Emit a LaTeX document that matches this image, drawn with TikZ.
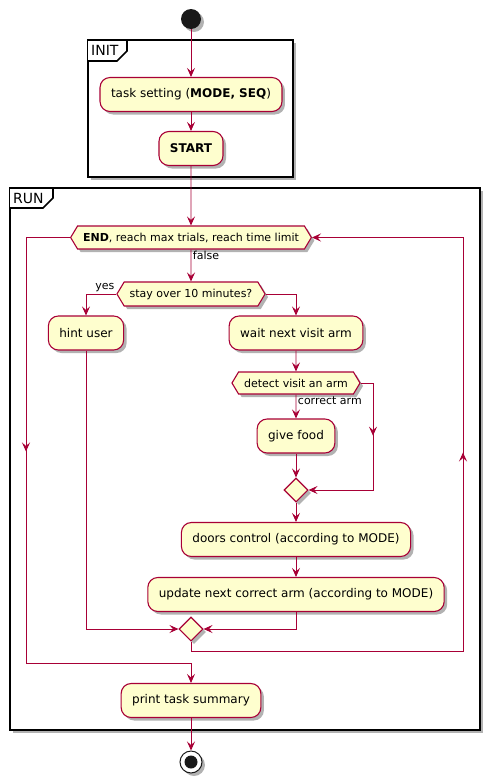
\documentclass[tikz,border=0pt]{standalone}
\usepackage{fontspec}
\setmainfont{DejaVu Sans}
\usetikzlibrary{arrows.meta,shapes.geometric,shapes.symbols,shadows,decorations.markings}
\definecolor{umlred}{HTML}{A80036}
\definecolor{umlfill}{HTML}{FEFECE}

\begin{document}
\begin{tikzpicture}
        [
            x = 1pt, y = -1pt,
            every node/.append style = {font = \fontsize{12}{14}\selectfont},
            boxshadow/.style = {drop shadow = {shadow xshift = 3pt, shadow yshift = -3pt, opacity = 0.3, fill = black}},
            action/.style = {draw = umlred, fill = umlfill, line width = 1.1pt, rounded corners = 10pt, minimum height = 34pt, inner xsep = 11pt, boxshadow},
            test/.style = {signal, signal to = west and east, signal pointer angle = 118, draw = umlred, fill = umlfill, line width = 1.1pt, minimum height = 23pt, inner xsep = 5.5pt, inner ysep = 0pt, font = \fontsize{11}{13}\selectfont, boxshadow},
            merge/.style = {diamond, draw = umlred, fill = umlfill, line width = 1.1pt, minimum size = 24pt, inner sep = 0pt, boxshadow},
            flow/.style = {draw = umlred, color = umlred, line width = 0.9pt, -{Stealth[length = 9pt, width = 8pt, inset = 3.5pt]}},
            midtip/.style = {postaction = {decorate}, decoration = {markings, mark = at position #1 with {\arrow{Stealth[length = 9pt, width = 8pt, inset = 3.5pt]}}}},
            guard/.style = {font = \fontsize{11}{13}\selectfont, text = black, inner sep = 1.5pt},
            frame/.style = {draw = black, fill = white, line width = 1.6pt},
            tab/.style = {font = \fontsize{14}{16}\selectfont, anchor = west, inner sep = 2pt}]
        \useasboundingbox (0,0) rectangle (488,782);

        \draw[frame, boxshadow] (88,40) rectangle (293,177);
        \draw[frame] (88,40) -- (127,40) -- (127,51) -- (117,61) -- (88,61);
        \node[tab] (initlbl) at (89,50) {INIT};
        \draw[frame, boxshadow] (10,188) rectangle (480,730);
        \draw[frame] (10,188) -- (53,188) -- (53,198) -- (43,208) -- (10,208);
        \node[tab] (runlbl) at (11,198) {RUN};

        \node[circle, fill = black!90, minimum size = 20pt, inner sep = 0pt, boxshadow] (start) at (191,19) {};
        \node[action] (task) at (191,94.5) {task setting (\textbf{MODE, SEQ})};
        \node[action] (go) at (191,148.5) {\textbf{START}};
        \node[test] (loop) at (191,237.5) {\textbf{END}, reach max trials, reach time limit};
        \node[test, minimum height = 24pt] (stay) at (191,294) {stay over 10 minutes?};
        \node[action] (hint) at (86,333) {hint user};
        \node[action] (wait) at (296,333) {wait next visit arm};
        \node[test, minimum height = 22pt] (detect) at (296,383) {detect visit an arm};
        \node[action] (food) at (296,436) {give food};
        \node[merge] (merge1) at (296,490) {};
        \node[action] (doors) at (296,539.5) {doors control (according to MODE)};
        \node[action] (update) at (296,594.5) {update next correct arm (according to MODE)};
        \node[merge] (merge2) at (191,629) {};
        \node[action] (summary) at (191,700.5) {print task summary};
        \node[circle, draw = black!90, fill = white, line width = 1pt, minimum size = 22pt, inner sep = 0pt, boxshadow,
            path picture = {\fill[black!90] (path picture bounding box.center) circle (6.5pt);}] (stop) at (191,762) {};

        \coordinate (skipR) at (373,490);
        \coordinate (backB) at (191,651);
        \coordinate (backR) at (463,651);
        \coordinate (exitL) at (26,663);

        \draw[flow] (start) -- (task);
        \draw[flow] (task) -- (go);
        \draw[flow] (go) -- (loop);
        \draw[flow] (loop) -- node[guard, anchor = north west, pos = 0] {false} (stay);
        \draw[flow] (stay.west) -| node[guard, anchor = south east, pos = 0] {yes} (hint);
        \draw[flow] (stay.east) -| (wait);
        \draw[flow] (wait) -- (detect);
        \draw[flow] (detect) -- node[guard, anchor = north west, pos = 0] {correct arm} (food);
        \draw[flow] (food) -- (merge1);
        \draw[flow, midtip = 65pt] (detect.east) -| (skipR) -- (merge1.east);
        \draw[flow] (merge1) -- (doors);
        \draw[flow] (doors) -- (update);
        \draw[flow] (hint) |- (merge2.west);
        \draw[flow] (update) |- (merge2.east);
        \draw[flow, midtip = 480pt] (merge2.south) -- (backB) -- (backR) |- (loop.east);
        \draw[flow, midtip = 258pt] (loop.west) -| (exitL) -| (summary);
        \draw[flow] (summary) -- (stop);
    \end{tikzpicture}
\end{document}
